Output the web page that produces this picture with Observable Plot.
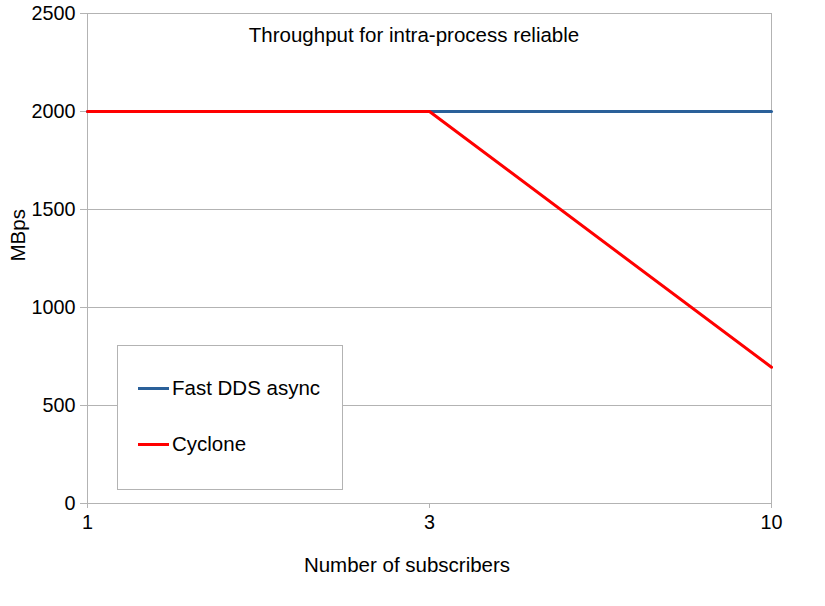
<!DOCTYPE html>
<html>
<head>
<meta charset="utf-8">
<script src="https://cdn.jsdelivr.net/npm/d3@7"></script>
<script src="https://cdn.jsdelivr.net/npm/@observablehq/plot@0.6"></script>
<style>
  body { margin: 0; background: #fff; }
  #wrap { position: relative; width: 825px; height: 606px; font-family: "Liberation Sans", Arial, sans-serif; }
  #legend { position: absolute; left: 117px; top: 345px; width: 226px; height: 145px; border: 1px solid #b3b3b3; background: #fff; box-sizing: border-box; }
  .item { position: absolute; left: 20px; display: flex; align-items: center; font-size: 20.5px; line-height: 24px; color: #000; }
  .sw { width: 31px; height: 3px; margin-right: 3px; }
</style>
</head>
<body>
<div id="wrap"></div>
<script>
const subscribers = ["1", "3", "10"];
const fastDDS = [2000, 2000, 2000];
const cyclone = [2000, 2000, 695];
const seriesNames = ["Fast DDS async", "Cyclone"];
const seriesColors = ["#2a6099", "#ff0000"];
const yTicks = [0, 500, 1000, 1500, 2000, 2500];
const title = "Throughput for intra-process reliable";
const xLabel = "Number of subscribers";
const yLabel = "MBps";

const rows = [];
[fastDDS, cyclone].forEach((vals, i) => {
  vals.forEach((v, j) => rows.push({series: seriesNames[i], x: subscribers[j], y: v}));
});

const chart = Plot.plot({
  width: 825,
  height: 606,
  marginLeft: 86,
  marginRight: 54,
  marginTop: 13,
  marginBottom: 103,
  style: {fontFamily: "Liberation Sans, Arial, sans-serif", fontSize: "19.8px", background: "#fff", color: "#000"},
  x: {type: "point", domain: subscribers, padding: 0},
  y: {domain: [0, 2500]},
  color: {domain: seriesNames, range: seriesColors},
  marks: [
    Plot.gridY(yTicks, {stroke: "#b3b3b3", strokeOpacity: 1}),
    Plot.ruleX([subscribers[0], subscribers[subscribers.length - 1]], {stroke: "#b3b3b3"}),
    Plot.axisY(yTicks, {tickSize: 6, tickPadding: 5, stroke: "#b3b3b3", fill: "#000", label: null, tickFormat: d => String(d)}),
    Plot.axisX(subscribers, {tickSize: 5, tickPadding: 6, stroke: "#b3b3b3", fill: "#000", label: null}),
    Plot.line(rows, {x: "x", y: "y", z: "series", stroke: "series", strokeWidth: 3}),
    Plot.text([title], {frameAnchor: "top", lineAnchor: "middle", dy: 22, dx: -15, fontSize: 20.5}),
    Plot.text([yLabel], {frameAnchor: "left", lineAnchor: "middle", dx: -68, dy: 3, rotate: -90, fontSize: 20.5}),
    Plot.text([xLabel], {frameAnchor: "bottom", lineAnchor: "middle", dy: 62, dx: -22, fontSize: 20.5})
  ]
});

const wrap = document.getElementById("wrap");
wrap.appendChild(chart);

const legend = document.createElement("div");
legend.id = "legend";
seriesNames.forEach((name, i) => {
  const item = document.createElement("div");
  item.className = "item";
  item.style.top = (i === 0 ? 30 : 86) + "px";
  const sw = document.createElement("span");
  sw.className = "sw";
  sw.style.background = seriesColors[i];
  const lab = document.createElement("span");
  lab.textContent = name;
  item.appendChild(sw);
  item.appendChild(lab);
  legend.appendChild(item);
});
wrap.appendChild(legend);
</script>
</body>
</html>
